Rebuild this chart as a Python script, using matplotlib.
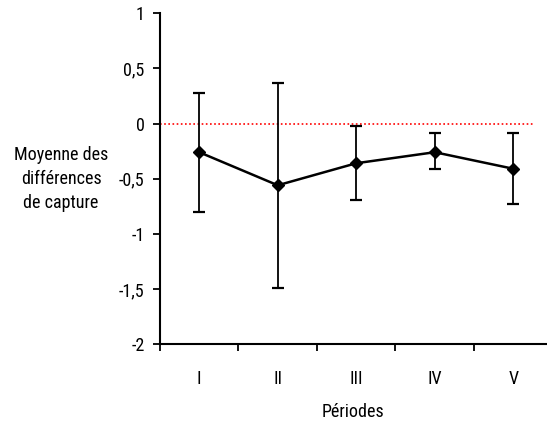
import matplotlib.pyplot as plt

plt.rcParams['font.family'] = ['Roboto Condensed', 'Liberation Sans', 'DejaVu Sans']

periodes = ['I', 'II', 'III', 'IV', 'V']
moyennes = [-0.26, -0.56, -0.36, -0.26, -0.41]
haut = [0.28, 0.37, -0.02, -0.09, -0.09]
bas = [-0.80, -1.49, -0.69, -0.41, -0.73]

x = [i + 0.5 for i in range(len(periodes))]
err = [[m - b for m, b in zip(moyennes, bas)],
       [h - m for m, h in zip(moyennes, haut)]]

fig = plt.figure(figsize=(5.47, 4.30), dpi=100)
ax = fig.add_axes([0.2925, 0.2, 0.7075, 0.769])

ax.axhline(0, xmin=0, xmax=0.964, color='red', linestyle=(0, (1, 1.5)), linewidth=1.2)
ax.errorbar(x, moyennes, yerr=err, color='black', linewidth=1.8, elinewidth=1.3,
            capsize=4, capthick=1.6, marker='D', markersize=6)

ax.set_xlim(0, 4.93)
ax.set_ylim(-2, 1)
ax.set_yticks([1, 0.5, 0, -0.5, -1, -1.5, -2])
ax.set_yticklabels(['1', '0,5', '0', '-0,5', '-1', '-1,5', '-2'])
ax.set_xticks(range(5))
ax.set_xticklabels([])
ax.set_xticks(x, minor=True)
ax.set_xticklabels(periodes, minor=True)
ax.tick_params(axis='x', which='minor', length=0, pad=18.5, labelsize=13)
ax.tick_params(axis='both', which='major', direction='out', length=5, width=1.3, labelsize=13)
ax.tick_params(axis='y', pad=6)

for s in ['top', 'right']:
    ax.spines[s].set_visible(False)
for s in ['left', 'bottom']:
    ax.spines[s].set_linewidth(1.5)

fig.text(0.1115, 0.584, 'Moyenne des\ndifférences\nde capture', ha='center', va='center',
         fontsize=13, linespacing=1.45)
fig.text(0.646, 0.042, 'Périodes', ha='center', va='center', fontsize=13)

fig.savefig('out.png', dpi=100)
